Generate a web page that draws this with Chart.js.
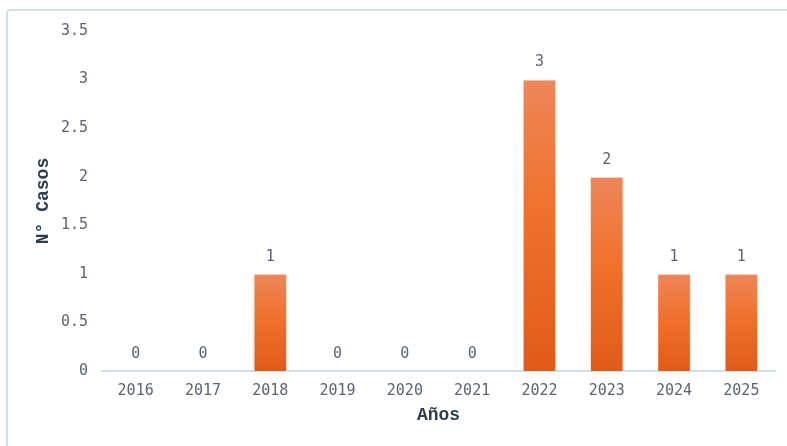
<!DOCTYPE html>
<html>
<head>
<meta charset="utf-8">
<script src="https://cdn.jsdelivr.net/npm/chart.js@4"></script>
<style>
  html, body { margin: 0; padding: 0; background: #fff; overflow: hidden; }
  #frame {
    position: absolute; left: 6px; top: 9px; width: 820px; height: 470px;
    border: 2px solid #cfe0f1; border-radius: 4px; box-sizing: border-box;
  }
  #chart { position: absolute; left: 0; top: 0; }
</style>
</head>
<body>
<div id="frame"></div>
<canvas id="chart" width="787" height="446"></canvas>
<script>
// data
const years = ['2016', '2017', '2018', '2019', '2020', '2021', '2022', '2023', '2024', '2025'];
const cases = [0, 0, 1, 0, 0, 0, 3, 2, 1, 1];
const yTicks = [0, 0.5, 1, 1.5, 2, 2.5, 3, 3.5];

const tickFont = { family: "'DejaVu Sans Mono', monospace", size: 15 };
const tickColor = '#5a6473';
const titleFont = { family: 'Liberation Mono', size: 18, weight: 'bold' };
const titleColor = '#2e3d4f';

// gradient per bar: light top, darker bottom
function barGradient(ctx) {
    const chart = ctx.chart;
    if (!chart.chartArea || ctx.type !== 'data') return '#f07330';
    const y = chart.scales.y;
    const top = y.getPixelForValue(ctx.raw);
    const base = y.getPixelForValue(0);
    if (base - top < 1) return '#f07330';
    const g = chart.ctx.createLinearGradient(0, top, 0, base);
    g.addColorStop(0, '#ee8659');
    g.addColorStop(0.45, '#f0712c');
    g.addColorStop(1, '#e05b19');
    return g;
}

// value labels above bars
const valueLabels = {
    id: 'valueLabels',
    afterDatasetsDraw(chart) {
        const ctx = chart.ctx;
        const meta = chart.getDatasetMeta(0);
        ctx.save();
        ctx.font = tickFont.size + 'px ' + tickFont.family;
        ctx.fillStyle = tickColor;
        ctx.textAlign = 'center';
        ctx.textBaseline = 'middle';
        meta.data.forEach((bar, i) => {
            ctx.fillText(String(cases[i]), bar.x, bar.y - 17);
        });
        ctx.restore();
    }
};

new Chart(document.getElementById('chart'), {
    type: 'bar',
    data: {
        labels: years,
        datasets: [{
            data: cases,
            backgroundColor: barGradient,
            borderColor: 'rgba(255, 222, 204, 0.8)',
            borderWidth: 1,
            borderSkipped: 'bottom',
            barPercentage: 0.5,
            categoryPercentage: 1
        }]
    },
    options: {
        responsive: false,
        animation: false,
        layout: { padding: { top: 31, right: 12, left: 0, bottom: 0 } },
        plugins: {
            legend: { display: false },
            tooltip: { enabled: false }
        },
        scales: {
            x: {
                grid: { display: false, drawTicks: false },
                border: { display: true, color: '#cfe0f1', width: 2 },
                ticks: { font: tickFont, color: tickColor, padding: 11 },
                title: {
                    display: true, text: 'Años', font: titleFont, color: titleColor,
                    padding: { top: 0, bottom: 20 }
                },
                afterFit(scale) { scale.height = 75; }
            },
            y: {
                min: 0,
                max: 3.5,
                afterBuildTicks(scale) { scale.ticks = yTicks.map(v => ({ value: v })); },
                grid: { display: false, drawTicks: false },
                border: { display: false },
                ticks: {
                    font: tickFont, color: tickColor, padding: 14,
                    callback: (v) => String(v)
                },
                title: {
                    display: true, text: 'N° Casos', font: titleFont, color: titleColor,
                    padding: { top: 33, bottom: 0 }
                },
                afterFit(scale) { scale.width = 102; }
            }
        }
    },
    plugins: [valueLabels]
});
</script>
</body>
</html>
